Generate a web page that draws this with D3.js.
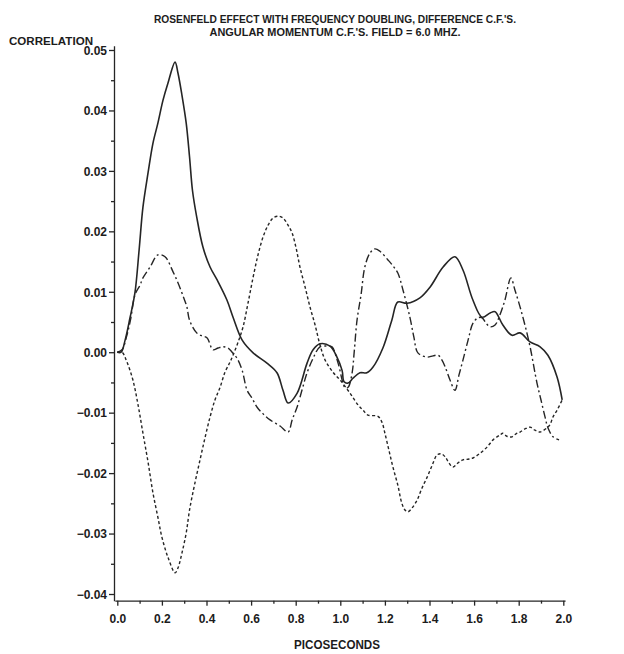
<!DOCTYPE html>
<html>
<head>
<meta charset="utf-8">
<script src="https://cdn.jsdelivr.net/npm/d3@7/dist/d3.min.js"></script>
<style>
  html, body { margin: 0; padding: 0; background: #fff; }
  svg { display: block; }
  text { font-family: "Liberation Sans", Arial, sans-serif; font-weight: bold; fill: #1c1c1c; }
</style>
</head>
<body>
<svg id="chart" width="624" height="654"></svg>
<script>
// Time axis in picoseconds; correlation values per curve.
const solidT = [0,0.017,0.035,0.057,0.079,0.098,0.115,0.138,0.160,0.182,0.205,0.227,0.259,0.272,0.290,0.309,0.324,0.337,0.356,0.384,0.416,0.447,0.492,0.519,0.560,0.609,0.671,0.716,0.743,0.766,0.806,0.851,0.878,0.909,0.954,0.985,1.008,1.017,1.035,1.057,1.088,1.119,1.146,1.191,1.231,1.258,1.299,1.357,1.403,1.461,1.514,1.550,1.595,1.636,1.672,1.694,1.729,1.770,1.806,1.851,1.896,1.931,1.972,1.995];
const solidV = [0,0.0000,0.0020,0.0057,0.0098,0.0170,0.0240,0.0297,0.0346,0.0379,0.0417,0.0445,0.0480,0.0462,0.0425,0.0379,0.0323,0.0268,0.0224,0.0174,0.0141,0.0120,0.0086,0.0058,0.0020,-0.0001,-0.0018,-0.0034,-0.0063,-0.0084,-0.0068,-0.0018,0.0004,0.0014,0.0010,-0.0008,-0.0030,-0.0049,-0.0051,-0.0043,-0.0034,-0.0034,-0.0025,0.0007,0.0053,0.0083,0.0081,0.0090,0.0108,0.0141,0.0158,0.0136,0.0086,0.0058,0.0065,0.0067,0.0045,0.0028,0.0032,0.0017,0.0009,-0.0005,-0.0041,-0.0079];

const dashDotT = [0,0.021,0.043,0.061,0.079,0.102,0.115,0.147,0.182,0.214,0.250,0.272,0.295,0.312,0.324,0.356,0.380,0.402,0.429,0.452,0.474,0.496,0.515,0.537,0.560,0.582,0.604,0.627,0.654,0.685,0.730,0.766,0.784,0.806,0.828,0.851,0.878,0.909,0.945,0.963,0.990,1.022,1.035,1.053,1.062,1.075,1.093,1.110,1.133,1.155,1.178,1.213,1.236,1.258,1.281,1.312,1.330,1.348,1.389,1.416,1.439,1.456,1.470,1.492,1.514,1.532,1.550,1.573,1.595,1.618,1.636,1.654,1.672,1.694,1.716,1.738,1.765,1.783,1.806,1.828,1.851,1.882,1.900,1.918,1.931,1.954,1.981];
const dashDotV = [0,0.0004,0.0028,0.0057,0.0095,0.0111,0.0123,0.0141,0.0161,0.0158,0.0133,0.0115,0.0093,0.0075,0.0053,0.0032,0.0027,0.0024,0.0004,0.0007,0.0009,0.0007,0.0000,-0.0010,-0.0030,-0.0063,-0.0076,-0.0091,-0.0102,-0.0112,-0.0122,-0.0132,-0.0112,-0.0091,-0.0063,-0.0034,-0.0010,0.0009,0.0010,0.0009,-0.0018,-0.0059,-0.0058,-0.0034,-0.0001,0.0053,0.0095,0.0141,0.0164,0.0171,0.0167,0.0153,0.0143,0.0131,0.0103,0.0058,0.0025,-0.0001,-0.0008,-0.0006,-0.0005,-0.0013,-0.0024,-0.0046,-0.0063,-0.0038,-0.0013,0.0020,0.0048,0.0057,0.0057,0.0048,0.0042,0.0045,0.0062,0.0086,0.0123,0.0103,0.0075,0.0045,0.0009,-0.0051,-0.0079,-0.0107,-0.0125,-0.0140,-0.0145];

const dottedT = [0,0.021,0.043,0.070,0.093,0.115,0.138,0.160,0.182,0.200,0.227,0.259,0.272,0.290,0.309,0.324,0.346,0.371,0.393,0.416,0.438,0.461,0.483,0.506,0.519,0.542,0.564,0.586,0.609,0.631,0.654,0.676,0.698,0.721,0.743,0.766,0.784,0.802,0.819,0.842,0.864,0.887,0.909,0.932,0.967,0.999,1.044,1.079,1.102,1.124,1.169,1.187,1.200,1.218,1.236,1.258,1.276,1.290,1.303,1.321,1.344,1.366,1.389,1.412,1.434,1.452,1.470,1.487,1.505,1.528,1.550,1.573,1.595,1.627,1.658,1.685,1.716,1.729,1.747,1.770,1.788,1.806,1.828,1.851,1.873,1.896,1.927,1.940,1.954,1.972,1.995];
const dottedV = [0,0.0000,-0.0016,-0.0046,-0.0087,-0.0134,-0.0182,-0.0233,-0.0273,-0.0306,-0.0339,-0.0365,-0.0357,-0.0332,-0.0299,-0.0261,-0.0220,-0.0178,-0.0142,-0.0107,-0.0079,-0.0058,-0.0033,-0.0016,-0.0005,0.0017,0.0042,0.0081,0.0124,0.0161,0.0191,0.0210,0.0222,0.0225,0.0222,0.0210,0.0197,0.0172,0.0141,0.0108,0.0075,0.0045,0.0012,-0.0013,-0.0033,-0.0046,-0.0068,-0.0087,-0.0096,-0.0104,-0.0106,-0.0116,-0.0134,-0.0162,-0.0190,-0.0220,-0.0250,-0.0261,-0.0264,-0.0258,-0.0245,-0.0225,-0.0207,-0.0187,-0.0170,-0.0168,-0.0173,-0.0183,-0.0190,-0.0183,-0.0178,-0.0177,-0.0175,-0.0167,-0.0157,-0.0145,-0.0137,-0.0134,-0.0139,-0.0140,-0.0135,-0.0132,-0.0127,-0.0124,-0.0129,-0.0132,-0.0125,-0.0120,-0.0107,-0.0096,-0.0079];

const xTicks = [0.0,0.2,0.4,0.6,0.8,1.0,1.2,1.4,1.6,1.8,2.0];
const xMinorTicks = [0.1,0.3,0.5,0.7,0.9,1.1,1.3,1.5,1.7,1.9];
const yTicks = [-0.04,-0.03,-0.02,-0.01,0.00,0.01,0.02,0.03,0.04,0.05];
const yMinorTicks = [-0.035,-0.025,-0.015,-0.005,0.005,0.015,0.025,0.035,0.045];

const titleLines = [
  "ROSENFELD EFFECT WITH FREQUENCY DOUBLING, DIFFERENCE C.F.'S.",
  "ANGULAR MOMENTUM C.F.'S. FIELD = 6.0 MHZ."
];
const yTitle = "CORRELATION";
const xTitle = "PICOSECONDS";

const svg = d3.select("#chart");
const ink = "#252525";

const x = d3.scaleLinear().domain([0, 2]).range([117.3, 563.3]);
const y = d3.scaleLinear().domain([-0.04, 0.05]).range([594, 50]);

// Axis scales reach slightly past the outermost ticks, as the frame lines do.
const xAxisScale = x.copy().domain([-0.011, 2.008]).range([x(-0.011), x(2.008)]);
const yAxisScale = y.copy().domain([-0.0411, 0.0507]).range([y(-0.0411), y(0.0507)]);
const axisX0 = 114;
const axisY0 = y(-0.0411);

function styleAxis(g) {
  g.selectAll("path, line").attr("stroke", ink).attr("stroke-width", 1.3);
  g.selectAll("text").attr("fill", "#1c1c1c").style("font-size", "12px").style("font-weight", "bold")
    .style("font-family", '"Liberation Sans", Arial, sans-serif');
}

// Left axis with minor ticks
svg.append("g").attr("transform", `translate(${axisX0},0)`)
  .call(d3.axisLeft(yAxisScale).tickValues(yTicks).tickSize(5).tickSizeOuter(0).tickPadding(2)
    .tickFormat(d3.format(".2f")))
  .call(styleAxis)
  .call(g => g.selectAll("text").attr("dy", "0.36em"));
svg.append("g").attr("transform", `translate(${axisX0},0)`)
  .call(d3.axisLeft(yAxisScale).tickValues(yMinorTicks).tickSize(3).tickSizeOuter(0).tickFormat(""))
  .call(styleAxis)
  .call(g => g.select(".domain").remove());

// Bottom axis with minor ticks
svg.append("g").attr("transform", `translate(0,${axisY0})`)
  .call(d3.axisBottom(xAxisScale).tickValues(xTicks).tickSize(5).tickSizeOuter(0).tickPadding(9)
    .tickFormat(d3.format(".1f")))
  .call(styleAxis);
svg.append("g").attr("transform", `translate(0,${axisY0})`)
  .call(d3.axisBottom(xAxisScale).tickValues(xMinorTicks).tickSize(3).tickSizeOuter(0).tickFormat(""))
  .call(styleAxis)
  .call(g => g.select(".domain").remove());

// Titles
svg.append("text").attr("x", 335).attr("y", 23).attr("text-anchor", "middle")
  .style("font-size", "11px").attr("textLength", 362).attr("lengthAdjust", "spacingAndGlyphs")
  .text(titleLines[0]);
svg.append("text").attr("x", 335).attr("y", 36).attr("text-anchor", "middle")
  .style("font-size", "11px").attr("textLength", 251).attr("lengthAdjust", "spacingAndGlyphs")
  .text(titleLines[1]);
svg.append("text").attr("x", 9).attr("y", 45)
  .style("font-size", "11px").attr("textLength", 84).attr("lengthAdjust", "spacingAndGlyphs")
  .text(yTitle);
svg.append("text").attr("x", 337).attr("y", 649).attr("text-anchor", "middle")
  .style("font-size", "12px").attr("textLength", 86).attr("lengthAdjust", "spacingAndGlyphs")
  .text(xTitle);

// Curves
const line = d3.line()
  .x(d => x(d[0]))
  .y(d => y(d[1]))
  .curve(d3.curveCatmullRom.alpha(0.5));

const series = [
  { t: solidT,   v: solidV,   dash: null,          width: 1.6 },
  { t: dashDotT, v: dashDotV, dash: "8,3,2,3",     width: 1.4 },
  { t: dottedT,  v: dottedV,  dash: "3,2.4",       width: 1.4 }
];

series.forEach(s => {
  const pts = s.t.map((t, i) => [t, s.v[i]]);
  svg.append("path")
    .datum(pts)
    .attr("d", line)
    .attr("fill", "none")
    .attr("stroke", ink)
    .attr("stroke-width", s.width)
    .attr("stroke-linejoin", "round")
    .attr("stroke-dasharray", s.dash);
});
</script>
</body>
</html>
